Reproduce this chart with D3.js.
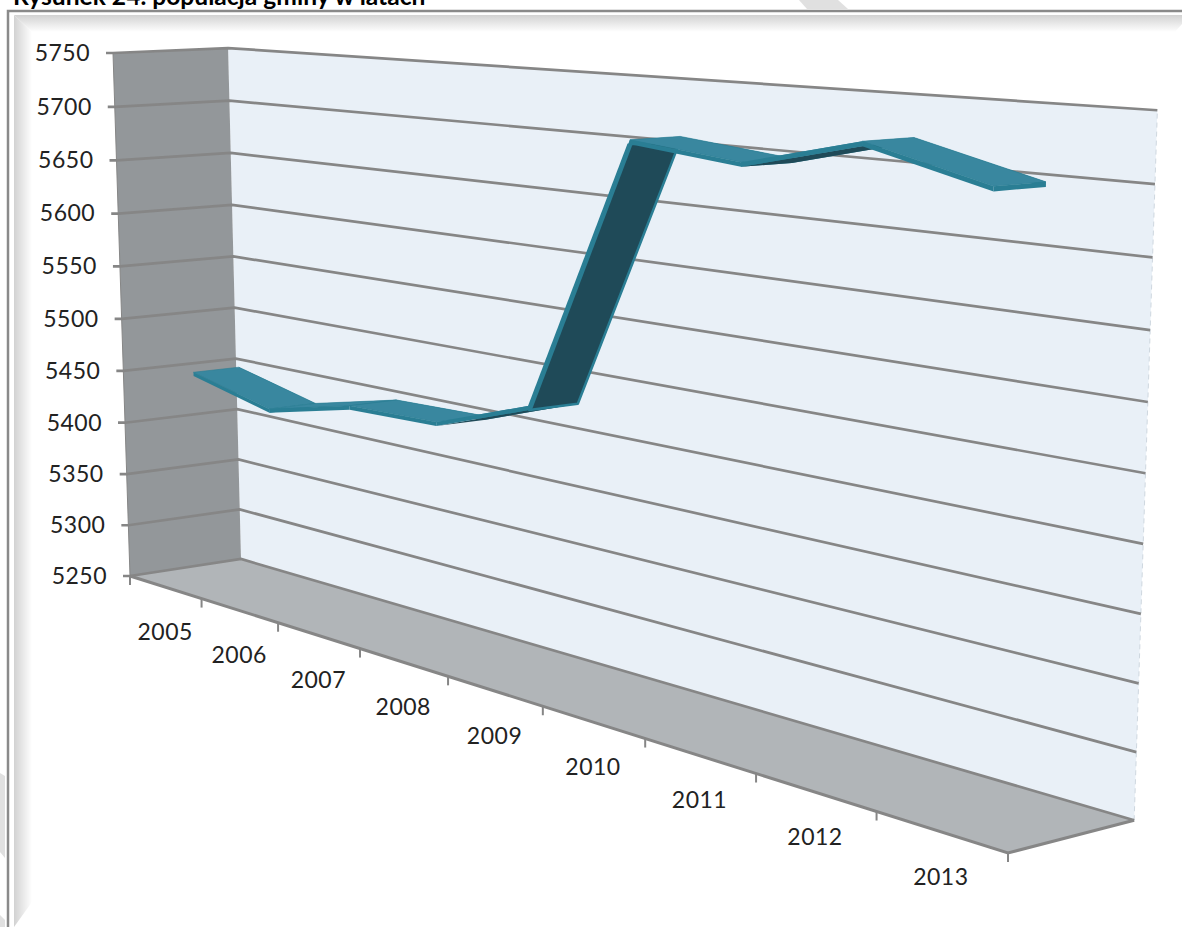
<!DOCTYPE html>
<html>
<head>
<meta charset="utf-8">
<script src="https://cdn.jsdelivr.net/npm/d3@7"></script>
<style>
    html, body { margin: 0; padding: 0; background: #fff; overflow: hidden; }
    svg { display: block; }
    text { font-family: "Lato", "Noto Sans", sans-serif; fill: #222; }
</style>
</head>
<body>
<svg id="chart" width="1182" height="927"></svg>
<script>
const YEARS = ["2005", "2006", "2007", "2008", "2009", "2010", "2011", "2012", "2013"];
const POPULATION = [5449, 5430, 5449, 5451, 5481, 5705, 5696, 5719, 5696];
const VALUE_TICKS = [5250, 5300, 5350, 5400, 5450, 5500, 5550, 5600, 5650, 5700, 5750];

const GRID_COLOR = "#868686";
const RIBBON_TOP = "#39879f";
const RIBBON_EDGE = "#2a7e94";
const RIBBON_UNDER = "#1f4a58";
const RIBBON_HEIGHT = 3.5;

// corners of the plot box as Excel drew it, then the perspective weights that fit them
const ORIGIN = [130, 576], END_X = [1008, 853], END_DEPTH = [241, 559], END_UP = [113, 53];
const W_X = -0.29, W_DEPTH = 0.024, W_UP = -0.0326;

const xBand = d3.scaleBand().domain(YEARS).range([0, 1]);
const yUp = d3.scaleLinear().domain([5250, 5750]).range([0, 1]);

function axisVector(end, w) {
    return [end[0] * (1 + w) - ORIGIN[0], end[1] * (1 + w) - ORIGIN[1]];
}
const vecX = axisVector(END_X, W_X),
    vecDepth = axisVector(END_DEPTH, W_DEPTH),
    vecUp = axisVector(END_UP, W_UP);

function project(c, d, v) {
    let w = 1 + c * W_X + d * W_DEPTH + v * W_UP;
    return [0, 1].map((k) =>
        (ORIGIN[k] + c * vecX[k] + d * vecDepth[k] + v * vecUp[k]) / w);
}

const svg = d3.select("#chart");
const line = d3.line();

function polygon(parent, pts, fill) {
    return parent.append("path").attr("d", line(pts) + "Z").attr("fill", fill);
}

function renderFrame() {
    let defs = svg.append("defs");
    let topGrad = defs.append("linearGradient").attr("id", "shadeTop")
        .attr("x1", 0).attr("y1", 0).attr("x2", 0).attr("y2", 1);
    let leftGrad = defs.append("linearGradient").attr("id", "shadeLeft")
        .attr("x1", 0).attr("y1", 0).attr("x2", 1).attr("y2", 0);
    [topGrad, leftGrad].forEach((g) => {
        g.append("stop").attr("offset", 0).attr("stop-color", "#d2d2d2");
        g.append("stop").attr("offset", 1).attr("stop-color", "#fff");
    });

    // watermark slivers behind the frame
    polygon(svg, [[799, 0], [838, 0], [848, 9], [807, 9]], "#e0e0e0");
    polygon(svg, [[0, 773], [5, 776], [5, 858], [0, 852]], "#e0e0e0");
    polygon(svg, [[0, 915], [5, 920], [5, 927], [0, 927]], "#e0e0e0");

    polygon(svg, [[14, 15], [1182, 15], [1182, 24], [1175, 32], [32, 32]], "url(#shadeTop)");
    polygon(svg, [[14, 15], [32, 32], [32, 902], [14, 927]], "url(#shadeLeft)");

    svg.append("path").attr("d", "M8,927V11H1182")
        .attr("fill", "none").attr("stroke", "#8a8a8a").attr("stroke-width", 2.5);

    // the source screenshot crops this title at the top edge
    svg.append("text").attr("x", 13).attr("y", 5)
        .style("font-size", "24.6px").style("font-weight", "bold").style("fill", "#000")
        .text("Rysunek 24. populacja gminy w latach");
}

function renderWalls() {
    polygon(svg, [project(0, 1, 0), project(0, 1, 1), project(1, 1, 1), project(1, 1, 0)], "#e9f0f7");
    polygon(svg, [project(0, 0, 0), project(0, 0, 1), project(0, 1, 1), project(0, 1, 0)], "#93979a");
    polygon(svg, [project(0, 0, 0), project(0, 1, 0), project(1, 1, 0), project(1, 0, 0)], "#b1b5b8");

    svg.append("path")
        .attr("d", line([project(1, 1, 0), project(1, 1, 1)]))
        .attr("stroke", "#cfd8e0").attr("stroke-dasharray", "5,4").attr("fill", "none");
}

function renderGrid() {
    let grid = svg.append("g").attr("fill", "none")
        .attr("stroke", GRID_COLOR).attr("stroke-width", 2.7);

    VALUE_TICKS.forEach((t) => {
        let v = yUp(t), front = project(0, 0, v);
        grid.append("path").attr("d", line([
            [front[0] - 7, front[1]], front, project(0, 1, v), project(1, 1, v)]));
        svg.append("text")
            .attr("x", front[0] - 23).attr("y", front[1] + 2)
            .attr("text-anchor", "end").attr("dominant-baseline", "middle")
            .style("font-size", "23px").style("letter-spacing", "0.5px")
            .text(t);
    });

    grid.append("path").attr("d", line([project(0, 0, 0), project(0, 0, 1)]))
        .attr("stroke-width", 1);
    grid.append("path").attr("d", line([project(0, 0, 0), project(1, 0, 0), project(1, 1, 0)]))
        .attr("stroke-width", 3);
}

function renderCategoryAxis() {
    let ticks = svg.append("g").attr("stroke", GRID_COLOR).attr("stroke-width", 2);

    YEARS.concat([null]).forEach((y) => {
        let c = y === null ? 1 : xBand(y),
            p = project(c, 0, 0);
        ticks.append("line")
            .attr("x1", p[0]).attr("y1", p[1])
            .attr("x2", p[0]).attr("y2", p[1] + 9);
    });

    YEARS.forEach((y) => {
        let p = project(xBand(y) + xBand.bandwidth() / 2, 0, 0);
        svg.append("text")
            .attr("x", p[0]).attr("y", p[1] + 47)
            .attr("text-anchor", "middle").attr("dominant-baseline", "middle")
            .style("font-size", "23px").style("letter-spacing", "0.5px")
            .text(y);
    });
}

function renderRibbon() {
    const D_FRONT = 0.3, D_BACK = 0.7;
    let g = svg.append("g");
    let floorArea = d3.polygonArea([
        project(0, 0, 0), project(1, 0, 0), project(1, 1, 0), project(0, 1, 0)]);

    d3.pairs(d3.zip(YEARS, POPULATION)).forEach(([a, b]) => {
        let c0 = xBand(a[0]) + xBand.bandwidth() / 2,
            c1 = xBand(b[0]) + xBand.bandwidth() / 2,
            low0 = yUp(a[1]), low1 = yUp(b[1]),
            high0 = yUp(a[1] + RIBBON_HEIGHT), high1 = yUp(b[1] + RIBBON_HEIGHT);

        let top = [project(c0, D_FRONT, high0), project(c1, D_FRONT, high1),
            project(c1, D_BACK, high1), project(c0, D_BACK, high0)];
        let under = [project(c0, D_FRONT, low0), project(c1, D_FRONT, low1),
            project(c1, D_BACK, low1), project(c0, D_BACK, low0)];
        let front = [under[0], under[1], top[1], top[0]];
        let back = [under[3], under[2], top[2], top[3]];
        let cap = [under[1], under[2], top[2], top[1]];

        // winding of the top quad tells whether we look at it from above or below
        let topArea = d3.polygonArea(top);
        let seenFromBelow = topArea * floorArea < 0;

        if (seenFromBelow) {
            polygon(g, top, RIBBON_TOP);
            polygon(g, back, RIBBON_EDGE);
            let panel = polygon(g, under, RIBBON_UNDER);
            // the steep panel has a bright rim, slivers do not
            if (Math.abs(topArea) > 1000) {
                panel.attr("stroke", RIBBON_EDGE).attr("stroke-width", 2.5)
                    .attr("stroke-linejoin", "round");
                g.append("path").attr("d", line([under[0], under[1]]))
                    .attr("fill", "none").attr("stroke", RIBBON_EDGE)
                    .attr("stroke-width", 5);
            }
        } else {
            polygon(g, back, RIBBON_EDGE);
            polygon(g, top, RIBBON_TOP).attr("stroke", RIBBON_EDGE).attr("stroke-width", 0.6);
            // closes the notch left at a falling end of the ribbon
            if (low1 < low0) polygon(g, cap, RIBBON_EDGE);
        }
        polygon(g, front, RIBBON_EDGE);
    });
}

renderFrame();
renderWalls();
renderGrid();
renderCategoryAxis();
renderRibbon();
</script>
</body>
</html>
